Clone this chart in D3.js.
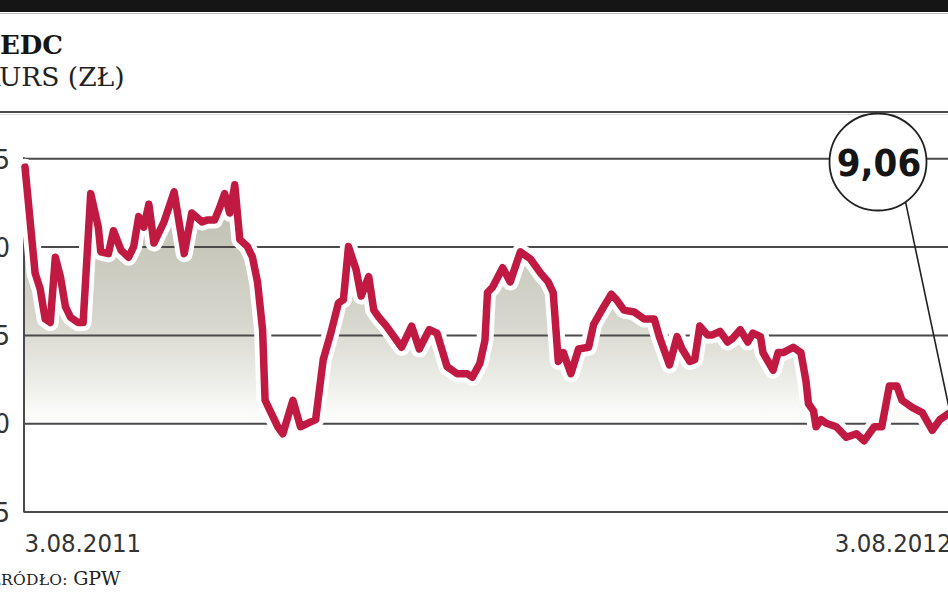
<!DOCTYPE html>
<html>
<head>
<meta charset="utf-8">
<script src="https://cdn.jsdelivr.net/npm/d3@7"></script>
<style>
  html, body { margin: 0; padding: 0; background: #fff; overflow: hidden; }
  svg { display: block; }
  .cond { font-family: "DejaVu Sans Condensed", "DejaVu Sans", sans-serif; font-stretch: condensed; }
</style>
</head>
<body>
<svg id="chart" width="948" height="593"></svg>
<script>
// ---------------- DATA ----------------
const titleText = "EDC";
const subtitleText = "KURS (ZŁ)";
const sourceLabel = "Źródło: ";
const sourceName = "GPW";

const dates = [
  "2011-08-03","2011-08-07","2011-08-09","2011-08-11","2011-08-13","2011-08-15","2011-08-17","2011-08-19",
  "2011-08-21","2011-08-24","2011-08-26","2011-08-29","2011-09-01","2011-09-02","2011-09-05","2011-09-07",
  "2011-09-10","2011-09-13","2011-09-15","2011-09-17","2011-09-19","2011-09-21","2011-09-23","2011-09-27",
  "2011-10-01","2011-10-05","2011-10-08","2011-10-12","2011-10-14","2011-10-17","2011-10-19","2011-10-21",
  "2011-10-23","2011-10-25","2011-10-27","2011-10-30","2011-11-01","2011-11-03","2011-11-05","2011-11-06",
  "2011-11-08","2011-11-11","2011-11-13","2011-11-17","2011-11-20","2011-11-23","2011-11-26","2011-11-29",
  "2011-12-01","2011-12-02","2011-12-05","2011-12-07","2011-12-09","2011-12-12","2011-12-14","2011-12-17",
  "2011-12-19","2011-12-21","2011-12-24","2011-12-30","2012-01-03","2012-01-06","2012-01-10","2012-01-13",
  "2012-01-17","2012-01-21","2012-01-25","2012-01-27","2012-01-30","2012-02-01","2012-02-02","2012-02-04",
  "2012-02-08","2012-02-11","2012-02-15","2012-02-19","2012-02-23","2012-02-26","2012-02-28","2012-03-01",
  "2012-03-03","2012-03-06","2012-03-09","2012-03-13","2012-03-15","2012-03-19","2012-03-22","2012-03-24",
  "2012-03-27","2012-03-31","2012-04-04","2012-04-08","2012-04-10","2012-04-14","2012-04-17","2012-04-19",
  "2012-04-22","2012-04-24","2012-04-26","2012-04-29","2012-05-01","2012-05-04","2012-05-07","2012-05-09",
  "2012-05-12","2012-05-15","2012-05-17","2012-05-20","2012-05-21","2012-05-25","2012-05-27","2012-05-29",
  "2012-06-02","2012-06-05","2012-06-07","2012-06-08","2012-06-10","2012-06-11","2012-06-13","2012-06-15",
  "2012-06-19","2012-06-23","2012-06-27","2012-06-30","2012-07-04","2012-07-07","2012-07-10","2012-07-13",
  "2012-07-15","2012-07-19","2012-07-23","2012-07-27","2012-07-30","2012-08-03"
];

const prices = [
  10.45, 9.85, 9.76, 9.59, 9.57, 9.94, 9.83, 9.66,
  9.60, 9.57, 9.57, 10.30, 10.11, 9.97, 9.96, 10.09,
  9.98, 9.94, 10.00, 10.17, 10.11, 10.24, 10.02, 10.14,
  10.31, 9.96, 10.19, 10.14, 10.15, 10.15, 10.22, 10.30,
  10.19, 10.35, 10.04, 10.00, 9.94, 9.80, 9.53, 9.13,
  9.07, 8.98, 8.94, 9.13, 8.98, 9.00, 9.02, 9.36,
  9.46, 9.51, 9.68, 9.70, 10.00, 9.87, 9.72, 9.83,
  9.64, 9.60, 9.55, 9.43, 9.55, 9.42, 9.53, 9.51,
  9.32, 9.28, 9.28, 9.26, 9.34, 9.47, 9.74, 9.77,
  9.88, 9.80, 9.97, 9.93, 9.85, 9.80, 9.74, 9.35,
  9.40, 9.28, 9.42, 9.43, 9.56, 9.66, 9.73, 9.70,
  9.64, 9.63, 9.59, 9.59, 9.49, 9.33, 9.49, 9.42,
  9.35, 9.36, 9.55, 9.50, 9.50, 9.52, 9.46, 9.48,
  9.53, 9.46, 9.51, 9.49, 9.40, 9.30, 9.40, 9.40,
  9.43, 9.40, 9.24, 9.11, 9.07, 8.98, 9.02, 9.00,
  8.98, 8.92, 8.94, 8.90, 8.98, 8.98, 9.21, 9.21,
  9.13, 9.09, 9.06, 8.96, 9.02, 9.06
];

const yTicks = [8.5, 9.0, 9.5, 10.0, 10.5];
const yTickLabels = ["8,5", "9,0", "9,5", "10,0", "10,5"];
const xTickDates = ["2011-08-03", "2012-08-03"];
const xTickLabels = ["3.08.2011", "3.08.2012"];

// ---------------- CHART ----------------
(function () {
const parse = d3.timeParse("%Y-%m-%d");
const data = dates.map((d, i) => ({ date: parse(d), value: prices[i] }));

const svg = d3.select("#chart");
const W = 948, H = 593;
const pLeft = 24, pRight = 951, pTop = 158.3, pBottom = 511.5;

const x = d3.scaleTime()
  .domain([parse(xTickDates[0]), parse(xTickDates[1])])
  .range([pLeft + 1, pRight - 1]);
const y = d3.scaleLinear()
  .domain([8.5, 10.5])
  .range([pBottom, pTop]);

// header
svg.append("rect").attr("x", 0).attr("y", 0).attr("width", W).attr("height", 12).attr("fill", "#151515");
svg.append("line").attr("x1", 0).attr("x2", W).attr("y1", 13.5).attr("y2", 13.5)
  .attr("stroke", "#bbb").attr("stroke-width", 1);

svg.append("text").attr("x", 0).attr("y", 54)
  .attr("font-family", "DejaVu Serif, serif").attr("font-weight", "bold")
  .attr("font-size", 26).attr("fill", "#151515").text(titleText);

const sub = svg.append("text").attr("x", 0).attr("y", 86)
  .attr("text-anchor", "start")
  .attr("font-family", "DejaVu Serif, serif")
  .attr("font-size", 26.5).attr("fill", "#222")
  .text(subtitleText);
{
  const node = sub.node();
  let w1 = 18;
  try { w1 = node.getSubStringLength(0, 1); } catch (e) {}
  sub.attr("x", -w1 - 1);
}

svg.append("line").attr("x1", 0).attr("x2", W).attr("y1", 112).attr("y2", 112)
  .attr("stroke", "#4a4a4a").attr("stroke-width", 2);
svg.append("line").attr("x1", 0).attr("x2", W).attr("y1", 114.5).attr("y2", 114.5)
  .attr("stroke", "#ddd").attr("stroke-width", 1);

// gradient for area
const defs = svg.append("defs");
const grad = defs.append("linearGradient").attr("id", "areaGrad")
  .attr("gradientUnits", "userSpaceOnUse")
  .attr("x1", 0).attr("x2", 0).attr("y1", y(10.3)).attr("y2", y(9.0));
grad.append("stop").attr("offset", "0%").attr("stop-color", "#bdbdb0");
grad.append("stop").attr("offset", "55%").attr("stop-color", "#d6d6cd");
grad.append("stop").attr("offset", "85%").attr("stop-color", "#f0f0ec");
grad.append("stop").attr("offset", "100%").attr("stop-color", "#ffffff");

const area = d3.area().x(d => x(d.date)).y0(y(8.5)).y1(d => y(d.value));
svg.append("path").datum(data).attr("d", area).attr("fill", "url(#areaGrad)");

// y axis with gridlines
const yAxis = d3.axisLeft(y)
  .tickValues(yTicks)
  .tickSize(-(pRight - pLeft + 10))
  .tickPadding(14)
  .tickFormat((d, i) => yTickLabels[i]);
const gy = svg.append("g").attr("transform", `translate(${pLeft},0)`).call(yAxis);
gy.select(".domain").remove();
gy.selectAll(".tick line").attr("stroke", "#4a4a4a").attr("stroke-width", 2);
gy.selectAll(".tick text")
  .attr("class", "cond")
  .attr("font-size", 27).attr("fill", "#333").attr("dy", "0.36em");

// left axis line
svg.append("line").attr("x1", pLeft).attr("x2", pLeft).attr("y1", pTop - 1).attr("y2", pBottom + 1)
  .attr("stroke", "#4a4a4a").attr("stroke-width", 2);

// x axis
const xAxis = d3.axisBottom(x)
  .tickValues(xTickDates.map(parse))
  .tickSize(0)
  .tickFormat((d, i) => xTickLabels[i]);
const gx = svg.append("g").attr("transform", `translate(0,${pBottom})`).call(xAxis);
gx.select(".domain").remove();
gx.selectAll(".tick text")
  .attr("class", "cond")
  .attr("font-size", 25.5).attr("fill", "#333")
  .attr("y", 40).attr("dy", 0)
  .attr("text-anchor", (d, i) => i === 0 ? "start" : "end")
  .attr("dx", (d, i) => i === 0 ? -1 : 1);

// line: white halo then red line
const line = d3.line().x(d => x(d.date)).y(d => y(d.value)).curve(d3.curveLinear);
svg.append("path").datum(data).attr("d", line)
  .attr("fill", "none").attr("stroke", "#ffffff").attr("stroke-width", 17)
  .attr("stroke-linejoin", "round").attr("stroke-linecap", "round");
svg.append("path").datum(data).attr("d", line)
  .attr("fill", "none").attr("stroke", "#c01a42").attr("stroke-width", 7.5)
  .attr("stroke-linejoin", "round").attr("stroke-linecap", "round");

// callout
const last = data[data.length - 1];
const cx = 878, cy = 162, r = 48.5;
const ang = Math.atan2(42, 29);
svg.append("line")
  .attr("x1", cx + r * Math.cos(ang)).attr("y1", cy + r * Math.sin(ang))
  .attr("x2", x(last.date)).attr("y2", y(last.value))
  .attr("stroke", "#222").attr("stroke-width", 1.6);
svg.append("circle").attr("cx", cx).attr("cy", cy).attr("r", r)
  .attr("fill", "#fff").attr("stroke", "#222").attr("stroke-width", 1.8);
const fmt = d3.formatLocale({ decimal: ",", thousands: " ", grouping: [3], currency: ["", " zł"] }).format(".2f");
svg.append("text").attr("x", cx + 1).attr("y", cy + 14)
  .attr("text-anchor", "middle")
  .attr("class", "cond")
  .attr("font-weight", "bold").attr("font-size", 38).attr("fill", "#151515")
  .text(fmt(last.value));

// source
const src = svg.append("text").attr("y", 585)
  .attr("font-family", "DejaVu Serif, serif").attr("fill", "#222");
src.append("tspan").attr("font-size", 15.5).attr("letter-spacing", 0.3).text(sourceLabel.toUpperCase());
src.append("tspan").attr("font-size", 19).text(sourceName);
{
  let w1 = 11;
  try { w1 = src.node().getSubStringLength(0, 1); } catch (e) {}
  src.attr("x", -w1 + 1);
}
})();
</script>
</body>
</html>
